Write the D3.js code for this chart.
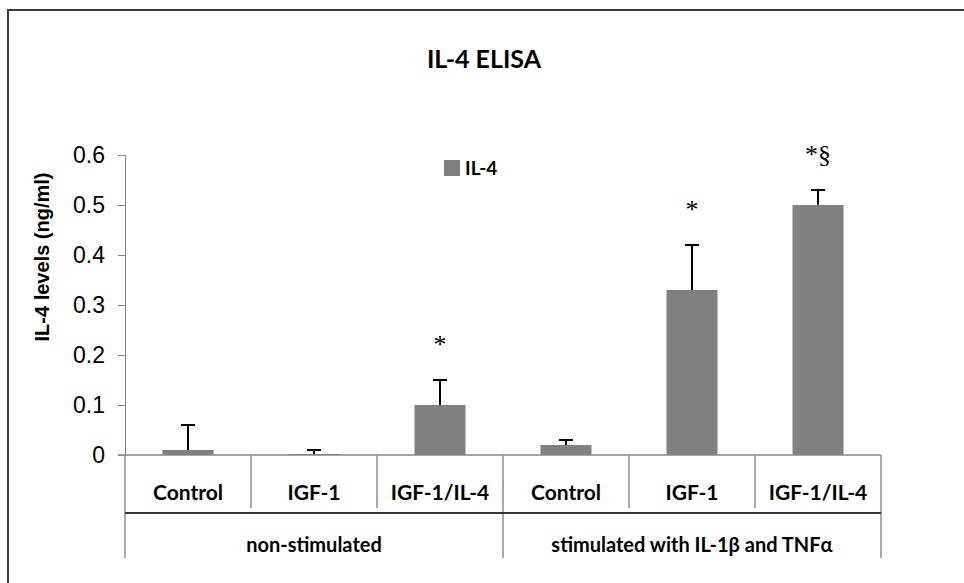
<!DOCTYPE html>
<html>
<head>
<meta charset="utf-8">
<script src="https://cdn.jsdelivr.net/npm/d3@7"></script>
<style>
  body { margin: 0; background: #fff; }
  svg { display: block; }
</style>
</head>
<body>
<div id="chart"></div>
<script>
const categories = ["Control", "IGF-1", "IGF-1/IL-4", "Control", "IGF-1", "IGF-1/IL-4"];
const groups = ["non-stimulated", "stimulated with IL-1β and TNFα"];
const values = [0.01, 0.002, 0.10, 0.02, 0.33, 0.50];
const errors = [0.05, 0.008, 0.05, 0.01, 0.09, 0.03];
const marks = ["", "", "*", "", "*", "*§"];
const yTicks = [0, 0.1, 0.2, 0.3, 0.4, 0.5, 0.6];

const width = 964, height = 583;
const calibri = "Lato, 'Open Sans', sans-serif";

const svg = d3.select("#chart")
  .append("svg")
  .attr("width", width)
  .attr("height", height);

svg.append("rect").attr("width", width).attr("height", height).attr("fill", "#fff");

// outer frame (only top and left visible)
svg.append("path")
  .attr("d", "M8,583V10H964")
  .attr("fill", "none")
  .attr("stroke", "#3a3a3a")
  .attr("stroke-width", 2);

const y = d3.scaleLinear().domain([0, 0.6]).range([455, 155]);

const idx = categories.map((d, i) => i);
const x = d3.scaleBand()
  .domain(idx)
  .range([125, 881])
  .paddingInner(0.595)
  .paddingOuter(0.2975);

// title
svg.append("text")
  .attr("x", 484).attr("y", 68)
  .attr("text-anchor", "middle")
  .style("font-family", calibri)
  .style("font-weight", "bold")
  .style("font-size", "25px")
  .text("IL-4 ELISA");

// y axis
const yAxis = svg.append("g")
  .attr("transform", "translate(125,0)")
  .call(d3.axisLeft(y).tickValues(yTicks).tickSize(7).tickPadding(13)
    .tickFormat(d => d === 0 ? "0" : d3.format(".1f")(d)));
yAxis.select(".domain").attr("stroke", "#868686");
yAxis.selectAll(".tick line").attr("stroke", "#868686");
yAxis.selectAll(".tick text")
  .attr("fill", "#000")
  .style("font-family", "'Liberation Sans', Arial, sans-serif")
  .style("font-size", "23px");

svg.append("text")
  .attr("transform", "translate(44,257) rotate(-90)")
  .attr("text-anchor", "middle")
  .attr("dominant-baseline", "middle")
  .style("font-family", "'Liberation Sans', Arial, sans-serif")
  .style("font-weight", "bold")
  .style("font-size", "20px")
  .text("IL-4 levels (ng/ml)");

// bars
svg.append("g")
  .selectAll("rect")
  .data(values)
  .join("rect")
  .attr("x", (d, i) => x(i))
  .attr("width", x.bandwidth())
  .attr("y", d => y(d))
  .attr("height", d => y(0) - y(d))
  .attr("fill", "#808080");

// x axis line
svg.append("line")
  .attr("x1", 118).attr("x2", 881)
  .attr("y1", y(0)).attr("y2", y(0))
  .attr("stroke", "#868686")
  .attr("stroke-width", 1.5);

// error bars (upper only)
const eb = svg.append("g")
  .attr("stroke", "#000")
  .attr("stroke-width", 2);
values.forEach((v, i) => {
  const cx = x(i) + x.bandwidth() / 2;
  eb.append("line")
    .attr("x1", cx).attr("x2", cx)
    .attr("y1", y(v)).attr("y2", y(v + errors[i]));
  eb.append("line")
    .attr("x1", cx - 7).attr("x2", cx + 7)
    .attr("y1", y(v + errors[i])).attr("y2", y(v + errors[i]));
});

// significance marks
svg.append("g")
  .selectAll("text")
  .data(marks)
  .join("text")
  .attr("x", (d, i) => x(i) + x.bandwidth() / 2)
  .attr("y", (d, i) => y(values[i] + errors[i]) - 27)
  .attr("text-anchor", "middle")
  .style("font-family", "'Liberation Serif', 'Times New Roman', serif")
  .style("font-size", "26px")
  .text(d => d);

// category table under the axis
const left = 125, right = 881;
const table = svg.append("g");
idx.forEach(i => {
  const bx = x(i) - x.step() * x.paddingOuter();
  const outer = i === 0 || i === 3;
  table.append("line")
    .attr("x1", bx).attr("x2", bx)
    .attr("y1", y(0)).attr("y2", outer ? 558 : 508)
    .attr("stroke", "#8c8c8c")
    .attr("stroke-width", 1.5);
});
table.append("line")
  .attr("x1", right).attr("x2", right)
  .attr("y1", y(0)).attr("y2", 558)
  .attr("stroke", "#8c8c8c")
  .attr("stroke-width", 1.5);
table.append("line")
  .attr("x1", left).attr("x2", right)
  .attr("y1", 513).attr("y2", 513)
  .attr("stroke", "#333")
  .attr("stroke-width", 2);

table.selectAll("text.cat")
  .data(categories)
  .join("text")
  .attr("class", "cat")
  .attr("x", (d, i) => x(i) + x.bandwidth() / 2)
  .attr("y", 500)
  .attr("text-anchor", "middle")
  .style("font-family", calibri)
  .style("font-weight", "bold")
  .style("font-size", "21px")
  .text(d => d);

table.selectAll("text.grp")
  .data(groups)
  .join("text")
  .attr("class", "grp")
  .attr("x", (d, i) => left + (right - left) / 4 * (2 * i + 1))
  .attr("y", 552)
  .attr("text-anchor", "middle")
  .style("font-family", calibri)
  .style("font-weight", "bold")
  .style("font-size", "20px")
  .text(d => d);

// legend
const legend = svg.append("g").attr("transform", "translate(444,160)");
legend.append("rect").attr("width", 16).attr("height", 16).attr("fill", "#808080");
legend.append("text")
  .attr("x", 21).attr("y", 15)
  .style("font-family", calibri)
  .style("font-weight", "bold")
  .style("font-size", "19px")
  .text("IL-4");
</script>
</body>
</html>
